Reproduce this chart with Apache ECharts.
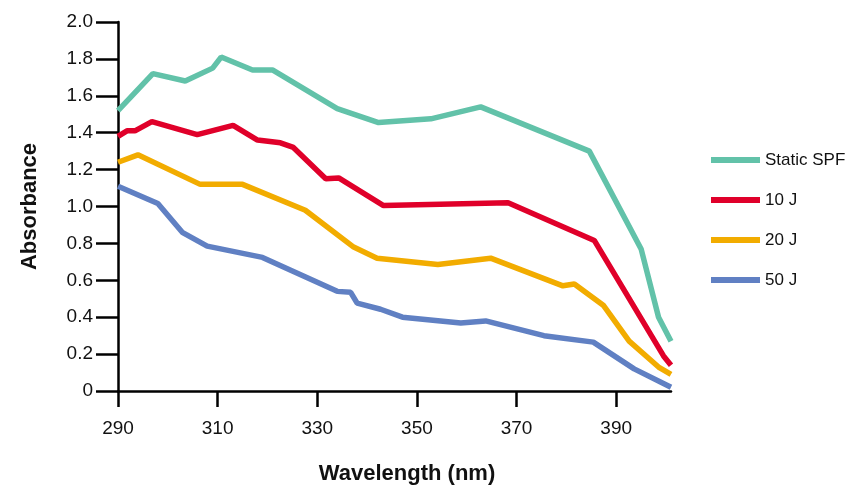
<!DOCTYPE html>
<html>
<head>
<meta charset="utf-8">
<script src="https://cdn.jsdelivr.net/npm/echarts@6/dist/echarts.min.js"></script>
<style>
html, body { margin: 0; padding: 0; background: #fff; }
#chart { width: 853px; height: 490px; }
</style>
</head>
<body>
<div id="chart"></div>
<script>
// 数据
var seriesNames = ['Static SPF', '10 J', '20 J', '50 J'];
var colors = ['#62c2a9', '#e0002a', '#f2ac00', '#6080c3'];

var staticX = [290, 297, 303.5, 309, 310.7, 317, 321, 334, 342.3, 352.8, 362.8, 384.6, 395, 398.5, 401];
var staticY = [1.52, 1.72, 1.68, 1.75, 1.81, 1.74, 1.74, 1.53, 1.455, 1.475, 1.54, 1.30, 0.77, 0.40, 0.27];

var j10X = [290, 291.8, 293.4, 296.8, 305.9, 313.1, 318, 322.6, 325.2, 331.7, 334.3, 343.3, 368.3, 385.6, 399.5, 401];
var j10Y = [1.38, 1.41, 1.41, 1.46, 1.39, 1.44, 1.36, 1.345, 1.32, 1.15, 1.155, 1.005, 1.02, 0.816, 0.19, 0.14];

var j20X = [290, 294, 306.5, 315, 327.6, 337.3, 342, 354.2, 364.8, 379.3, 381.6, 387.4, 392.6, 398.5, 401];
var j20Y = [1.24, 1.28, 1.12, 1.12, 0.98, 0.78, 0.72, 0.686, 0.72, 0.57, 0.58, 0.465, 0.27, 0.13, 0.09];

var j50X = [290, 298, 302.9, 307.9, 319, 334, 336.7, 338, 342.7, 347.1, 358.8, 363.8, 375.5, 385.4, 393.6, 401];
var j50Y = [1.11, 1.016, 0.86, 0.785, 0.724, 0.54, 0.535, 0.476, 0.443, 0.40, 0.368, 0.38, 0.30, 0.265, 0.12, 0.02];

var xList = [staticX, j10X, j20X, j50X];
var yList = [staticY, j10Y, j20Y, j50Y];

function zip(xs, ys) {
    var out = [];
    for (var i = 0; i < xs.length; i++) out.push([xs[i], ys[i]]);
    return out;
}

var fontFam = '"Liberation Sans", Arial, sans-serif';

var chart = echarts.init(document.getElementById('chart'));
var option = {
    animation: false,
    textStyle: { fontFamily: fontFam },
    grid: { left: 118, right: 182, top: 22, bottom: 98 },
    legend: {
        orient: 'vertical',
        left: 706,
        top: 145,
        itemWidth: 49,
        itemHeight: 6,
        itemGap: 20,
        icon: 'rect',
        textStyle: { fontFamily: fontFam, fontSize: 17, lineHeight: 20, color: '#111' },
        data: seriesNames
    },
    xAxis: {
        type: 'value',
        min: 290,
        max: 401,
        interval: 20,
        name: 'Wavelength (nm)',
        nameLocation: 'middle',
        nameGap: 72,
        nameTextStyle: { fontFamily: fontFam, fontSize: 22, fontWeight: 'bold', color: '#111', padding: [0, 0, 0, 25] },
        axisLine: { lineStyle: { color: '#000', width: 2.5 } },
        axisTick: { length: 16, lineStyle: { color: '#000', width: 2.5 } },
        axisLabel: { margin: 28, fontSize: 19, color: '#111', showMaxLabel: false },
        splitLine: { show: false }
    },
    yAxis: {
        type: 'value',
        min: 0,
        max: 2,
        interval: 0.2,
        name: 'Absorbance',
        nameLocation: 'middle',
        nameGap: 77,
        nameRotate: 90,
        nameTextStyle: { fontFamily: fontFam, fontSize: 22, fontWeight: 'bold', color: '#111' },
        axisLine: { show: true, lineStyle: { color: '#000', width: 2.5 } },
        axisTick: { show: true, length: 22, lineStyle: { color: '#000', width: 2.5 } },
        axisLabel: {
            margin: 25, fontSize: 19, color: '#111',
            formatter: function (v) { return v === 0 ? '0' : v.toFixed(1); }
        },
        splitLine: { show: false }
    },
    series: seriesNames.map(function (n, i) {
        return {
            name: n,
            type: 'line',
            data: zip(xList[i], yList[i]),
            showSymbol: false,
            symbol: 'none',
            color: colors[i],
            lineStyle: { color: colors[i], width: 5.5 },
            z: 2 + (3 - i)
        };
    })
};
chart.setOption(option);
window.addEventListener('resize', chart.resize);
</script>
</body>
</html>
